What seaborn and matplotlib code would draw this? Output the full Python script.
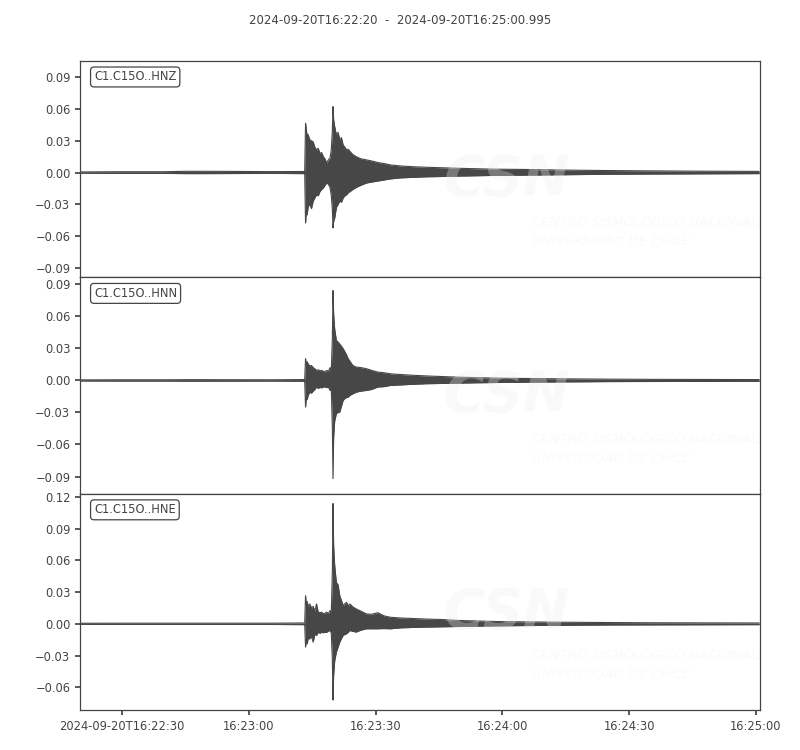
import pandas as pd
import matplotlib
matplotlib.use("Agg")
import matplotlib.pyplot as plt
import matplotlib.ticker as mticker
import seaborn as sns

# Seconds after 2024-09-20T16:22:20 where the trace envelope was read
times = [0, 10, 20, 25, 30, 45,
         53.2, 53.4, 53.6, 53.8, 54.0,
         54.4, 54.8, 55.2, 55.6, 56.0,
         56.4, 56.8, 57.2, 57.6, 58.0,
         58.4, 58.8, 59.2, 59.5, 59.75,
         59.9, 60.05, 60.3, 60.7, 61.1,
         61.5, 61.9, 62.3, 62.7, 63.1,
         63.5, 63.9, 64.6, 65.4, 66.5,
         67.8, 69.0, 70.5, 72.0, 73.5,
         76, 79, 82, 86, 90,
         94, 98, 104, 111, 118,
         125, 135, 147, 160.8]

# HNZ envelope (upper / lower)
hnz_upper = [0.0006, 0.0008, 0.0008, 0.0012, 0.0012, 0.0009,
             0.0010, 0.0466, 0.040, 0.034, 0.036,
             0.031, 0.030, 0.029, 0.024, 0.0215,
             0.023, 0.018, 0.019, 0.015, 0.013,
             0.009, 0.012, 0.0137, 0.022, 0.040,
             0.0623, 0.050, 0.0434, 0.0356, 0.038,
             0.031, 0.033, 0.026, 0.024, 0.0215,
             0.022, 0.020, 0.017, 0.015, 0.013,
             0.012, 0.011, 0.0095, 0.0085, 0.0072,
             0.0062, 0.0055, 0.0050, 0.0045, 0.0040,
             0.0036, 0.0032, 0.0030, 0.0026, 0.0022,
             0.0019, 0.0016, 0.0013, 0.0011]
hnz_lower = [-0.0006, -0.0008, -0.0008, -0.0010, -0.0010, -0.0008,
             -0.0010, -0.0476, -0.036, -0.040, -0.032,
             -0.030, -0.034, -0.027, -0.024, -0.021,
             -0.022, -0.018, -0.016, -0.0146, -0.012,
             -0.0099, -0.011, -0.014, -0.022, -0.035,
             -0.0523, -0.046, -0.043, -0.033, -0.030,
             -0.027, -0.028, -0.024, -0.022, -0.021,
             -0.019, -0.018, -0.016, -0.014, -0.012,
             -0.0099, -0.0090, -0.0080, -0.0070, -0.0060,
             -0.0050, -0.0045, -0.0040, -0.0037, -0.0033,
             -0.0030, -0.0027, -0.0025, -0.0022, -0.0019,
             -0.0016, -0.0014, -0.0012, -0.0010]

# HNN envelope
hnn_upper = [0.0005, 0.0006, 0.0006, 0.0007, 0.0007, 0.0006,
             0.0008, 0.0203, 0.015, 0.0175, 0.0155,
             0.0136, 0.014, 0.012, 0.011, 0.0094,
             0.010, 0.0090, 0.0094, 0.0085, 0.0080,
             0.0094, 0.0085, 0.0120, 0.010, 0.040,
             0.0842, 0.0624, 0.048, 0.0374, 0.036,
             0.034, 0.032, 0.0297, 0.027, 0.024,
             0.0203, 0.018, 0.014, 0.0125, 0.012,
             0.011, 0.0095, 0.0078, 0.0072, 0.0062,
             0.0055, 0.0048, 0.0042, 0.0036, 0.0030,
             0.0026, 0.0022, 0.0019, 0.0016, 0.0014,
             0.0012, 0.0010, 0.0009, 0.0008]
hnn_lower = [-0.0005, -0.0006, -0.0006, -0.0007, -0.0007, -0.0006,
             -0.0008, -0.025, -0.016, -0.018, -0.014,
             -0.011, -0.012, -0.010, -0.0085, -0.0062,
             -0.0075, -0.0065, -0.0070, -0.0062, -0.0060,
             -0.0068, -0.0062, -0.0094, -0.008, -0.045,
             -0.092, -0.053, -0.038, -0.031, -0.030,
             -0.0297, -0.024, -0.0187, -0.017, -0.016,
             -0.0156, -0.014, -0.0125, -0.011, -0.010,
             -0.0094, -0.0085, -0.0062, -0.0058, -0.0047,
             -0.0042, -0.0036, -0.0031, -0.0028, -0.0025,
             -0.0022, -0.0020, -0.0017, -0.0015, -0.0013,
             -0.0011, -0.0010, -0.0009, -0.0008]

# HNE envelope
hne_upper = [0.0005, 0.0006, 0.0006, 0.0006, 0.0006, 0.0006,
             0.0008, 0.0266, 0.018, 0.021, 0.0165,
             0.0188, 0.015, 0.0165, 0.012, 0.0188,
             0.011, 0.0105, 0.011, 0.0095, 0.010,
             0.011, 0.0095, 0.0125, 0.011, 0.050,
             0.1137, 0.0736, 0.055, 0.039, 0.037,
             0.0266, 0.022, 0.0172, 0.019, 0.0203,
             0.017, 0.0188, 0.016, 0.0141, 0.012,
             0.0094, 0.0090, 0.0105, 0.0075, 0.0062,
             0.0055, 0.0050, 0.0045, 0.0040, 0.0031,
             0.0027, 0.0022, 0.0019, 0.0016, 0.0014,
             0.0012, 0.0010, 0.0009, 0.0008]
hne_lower = [-0.0005, -0.0006, -0.0006, -0.0006, -0.0006, -0.0006,
             -0.0008, -0.022, -0.015, -0.019, -0.0141,
             -0.0141, -0.012, -0.0173, -0.010, -0.011,
             -0.0079, -0.009, -0.0079, -0.0085, -0.0079,
             -0.0080, -0.0070, -0.0060, -0.009, -0.035,
             -0.0721, -0.0486, -0.035, -0.0267, -0.022,
             -0.0173, -0.014, -0.011, -0.010, -0.0094,
             -0.008, -0.0063, -0.0072, -0.0078, -0.006,
             -0.0047, -0.0047, -0.0047, -0.0045, -0.0047,
             -0.0038, -0.0034, -0.0031, -0.0028, -0.0025,
             -0.0022, -0.0020, -0.0017, -0.0015, -0.0013,
             -0.0011, -0.0010, -0.0009, -0.0008]

channels = ["C1.C15O..HNZ", "C1.C15O..HNN", "C1.C15O..HNE"]
uppers = [hnz_upper, hnn_upper, hne_upper]
lowers = [hnz_lower, hnn_lower, hne_lower]
ylims = [(-0.0988, 0.1056), (-0.1060, 0.0967), (-0.0815, 0.1231)]

tick_secs = [10, 40, 70, 100, 130, 160]
tick_labels = ["2024-09-20T16:22:30", "16:23:00", "16:23:30",
               "16:24:00", "16:24:30", "16:25:00"]
title = "2024-09-20T16:22:20  -  2024-09-20T16:25:00.995"

TEXT = "#444444"
TRACE = "#474747"

sns.set_theme(style="ticks", rc={
    "axes.edgecolor": TEXT, "text.color": TEXT,
    "xtick.color": TEXT, "ytick.color": TEXT,
    "axes.labelcolor": TEXT, "axes.linewidth": 0.9,
    "xtick.labelsize": 8.3, "ytick.labelsize": 8.3,
    "xtick.major.size": 3.5, "ytick.major.size": 3.5,
})
plt.rcParams["font.family"] = ["DejaVu Sans"]

fig, axes = plt.subplots(3, 1, figsize=(8, 7.5), dpi=100, sharex=True,
                         gridspec_kw=dict(hspace=0))
fig.subplots_adjust(left=0.1, right=0.95, top=0.919, bottom=0.0533)

for ax, name, up, lo, yl in zip(axes, channels, uppers, lowers, ylims):
    df = pd.DataFrame({"t": times, "upper": up, "lower": lo})
    ax.fill_between(df["t"], df["lower"], df["upper"], color=TRACE, lw=0, zorder=2)
    sns.lineplot(data=df, x="t", y="upper", ax=ax, color=TRACE, lw=0.8,
                 estimator=None, zorder=3)
    sns.lineplot(data=df, x="t", y="lower", ax=ax, color=TRACE, lw=0.8,
                 estimator=None, zorder=3)
    ax.set_ylim(*yl)
    ax.set_xlim(0, 160.995)
    ax.yaxis.set_major_locator(mticker.MultipleLocator(0.03))
    ax.yaxis.set_major_formatter(mticker.FuncFormatter(
        lambda v, p: f"{v:.2f}".replace("-", "\u2212") if abs(v) > 1e-9 else "0.00"))
    ax.set_xlabel("")
    ax.set_ylabel("")
    ax.text(0.0206, 0.925, name, transform=ax.transAxes, ha="left", va="center",
            fontsize=8.3, zorder=5,
            bbox=dict(boxstyle="round,pad=0.3", fc="white", ec=TEXT, lw=0.9))
    # faint CSN watermark
    ax.text(0.627, 0.45, "CSN", transform=ax.transAxes, ha="center", va="center",
            fontsize=40, fontweight="bold", style="italic", color="#eeeeee",
            alpha=0.3, zorder=4)
    ax.text(0.665, 0.208, "CENTRO SISMOLÓGICO NACIONAL\nUNIVERSIDAD DE CHILE",
            transform=ax.transAxes, ha="left", va="center", fontsize=9.5,
            style="italic", color="#eeeeee", alpha=0.3, linespacing=1.6, zorder=4)

for ax in axes[:-1]:
    ax.tick_params(axis="x", length=0, labelbottom=False)

axes[-1].set_xticks(tick_secs)
axes[-1].set_xticklabels(tick_labels)

fig.suptitle(title, y=0.981, fontsize=8.5, color=TEXT)

fig.savefig("out.png", dpi=100)
